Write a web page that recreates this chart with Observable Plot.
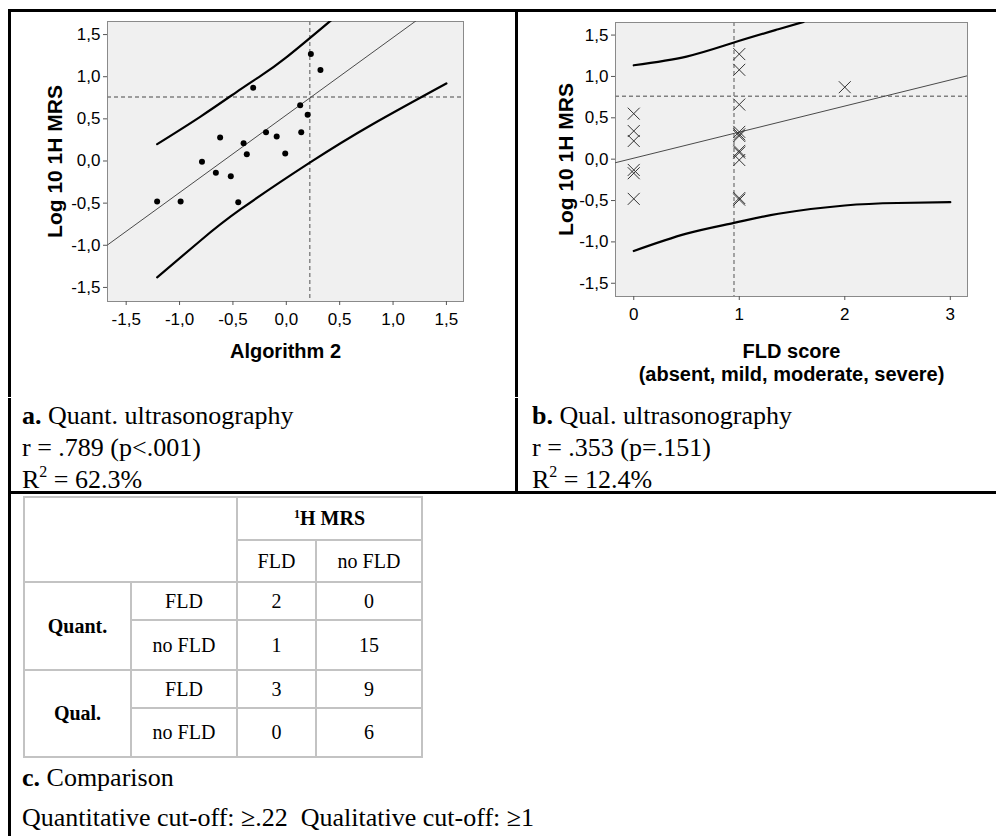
<!DOCTYPE html>
<html><head><meta charset="utf-8">
<script src="https://cdn.jsdelivr.net/npm/d3@7"></script>
<script src="https://cdn.jsdelivr.net/npm/@observablehq/plot@0.6"></script>
<style>
html,body{margin:0;padding:0;background:#fff;}
#fig{position:relative;width:996px;height:836px;overflow:hidden;background:#fff;font-family:"Liberation Serif","Times New Roman",serif;color:#000;}
.rule{position:absolute;background:#000;z-index:5;}
.gap{position:absolute;background:#fff;z-index:6;}
.panel{position:absolute;z-index:1;}
.cap{position:absolute;font-size:26px;line-height:32px;white-space:nowrap;z-index:2;}
.cap sup{font-size:16px;line-height:0;vertical-align:0;position:relative;top:-11px;}
#tbl{position:absolute;left:23px;top:496px;border-collapse:collapse;table-layout:fixed;width:398px;font-size:20px;z-index:2;}
#tbl td{border:2px solid #c3c3c3;text-align:center;vertical-align:middle;padding:0;}
#tbl sup{font-size:12px;line-height:0;position:relative;top:-7px;vertical-align:0;}
</style></head>
<body><div id="fig"></div>
<script>
// ---------- data ----------
const yTicks = [-1.5, -1.0, -0.5, 0.0, 0.5, 1.0, 1.5];
const xTicksA = [-1.5, -1.0, -0.5, 0.0, 0.5, 1.0, 1.5];
const xTicksB = [0, 1, 2, 3];

// Panel a: Algorithm 2 vs Log10 1H MRS
const algorithm2 = [-1.21, -0.99, -0.79, -0.62, -0.66, -0.52, -0.45, -0.40, -0.37, -0.31, -0.19, -0.09, -0.01, 0.14, 0.13, 0.20, 0.23, 0.32];
const logMrsA    = [-0.48, -0.48, -0.01, 0.28, -0.14, -0.18, -0.49, 0.21, 0.08, 0.87, 0.34, 0.29, 0.09, 0.34, 0.66, 0.55, 1.27, 1.08];
const fitA = [0.545, 0.92];              // intercept, slope
const upperA = [[-1.21, 0.20], [-0.80, 0.53], [-0.43, 0.85], [-0.24, 1.01], [0.00, 1.23], [0.42, 1.67]];
const lowerA = [[-1.21, -1.38], [-0.80, -0.94], [-0.43, -0.575], [0.22, -0.02], [0.80, 0.43], [1.50, 0.92]];

// Panel b: FLD score vs Log10 1H MRS
const fldScore = [0, 0, 0, 0, 0, 0, 1, 1, 1, 1, 1, 1, 1, 1, 1, 1, 1, 2];
const logMrsB  = [0.55, 0.34, 0.22, -0.13, -0.17, -0.48, 1.27, 1.08, 0.66, 0.33, 0.30, 0.28, 0.10, 0.08, -0.01, -0.47, -0.49, 0.87];
const fitB = [0.012, 0.315];
const upperB = [[0, 1.135], [0.5, 1.24], [0.95, 1.41], [1.37, 1.57], [1.61, 1.66]];
const lowerB = [[0, -1.11], [0.5, -0.90], [0.95, -0.77], [1.37, -0.66], [2.0, -0.56], [2.5, -0.53], [3.0, -0.52]];

// cut-offs
const cutQuant = 0.22;
const cutQualDrawn = 0.95;
const cutMrs = 0.76;

// Table c
const mrsHeader = "H MRS";
const colLabels = ["FLD", "no FLD"];
const rowGroups = ["Quant.", "Qual."];
const rowLabels = ["FLD", "no FLD"];
const countsQuant = [[2, 0], [1, 15]];
const countsQual  = [[3, 9], [0, 6]];

// ---------- helpers ----------
const fmt = d => d.toFixed(1).replace(".", ",");
const fig = document.getElementById("fig");
const font = "'Liberation Sans', Arial, sans-serif";
const dash = {stroke: "#808080", strokeWidth: 1.4, strokeDasharray: "4,3"};

function scatter(o) {
  const pts = o.xs.map((x, i) => ({x, y: o.ys[i]}));
  const fitPts = o.xDomain.map(x => ({x, y: o.fit[0] + o.fit[1] * x}));
  return Plot.plot({
    width: o.width, height: o.height,
    marginLeft: o.ml, marginRight: o.mr, marginTop: o.mt, marginBottom: o.mb,
    x: {domain: o.xDomain, label: null},
    y: {domain: o.yDomain, label: null},
    style: {fontFamily: font, fontSize: "17px", background: "transparent", color: "#000", overflow: "visible"},
    marks: [
      Plot.frame({fill: "#f0f0f0", stroke: "#8a8a8a"}),
      Plot.ruleX([o.cutX], dash),
      Plot.ruleY([cutMrs], dash),
      Plot.line(fitPts, {x: "x", y: "y", stroke: "#4a4a4a", strokeWidth: 1, clip: true}),
      Plot.line(o.upper, {x: d => d[0], y: d => d[1], stroke: "#000", strokeWidth: 2.2, curve: "natural", clip: true}),
      Plot.line(o.lower, {x: d => d[0], y: d => d[1], stroke: "#000", strokeWidth: 2.2, curve: "natural", clip: true}),
      o.symbol === "times"
        ? Plot.dot(pts, {x: "x", y: "y", symbol: "times", r: 5.5, stroke: "#333", strokeWidth: 1})
        : Plot.dot(pts, {x: "x", y: "y", r: 3, fill: "#000", stroke: null}),
      Plot.axisY(yTicks, {tickSize: 4, tickPadding: 3, tickFormat: fmt, fontSize: 17, stroke: "#555", label: null}),
      Plot.axisX(o.xTicks, {tickSize: 4, tickPadding: 7, tickFormat: o.xFmt, fontSize: 17, stroke: "#555", label: null}),
      Plot.text([o.xLabel], {frameAnchor: "bottom", dy: o.xLabelDy, textAnchor: "middle", lineAnchor: o.xLabelAnchor, lineHeight: 1.15, fontSize: 20, fontWeight: "bold", fill: "#000"}),
      Plot.text(["Log 10 1H MRS"], {frameAnchor: "left", dx: o.yLabelDx, rotate: -90, textAnchor: "middle", lineAnchor: "middle", fontSize: 21, fontWeight: "bold", fill: "#000"})
    ]
  });
}

const plotA = scatter({
  xs: algorithm2, ys: logMrsA, fit: fitA, upper: upperA, lower: lowerA,
  xDomain: [-1.675, 1.66], yDomain: [-1.667, 1.655], xTicks: xTicksA, xFmt: fmt,
  cutX: cutQuant, symbol: "dot",
  width: 516, height: 395, ml: 107, mr: 53, mt: 21, mb: 94,
  xLabel: "Algorithm 2", xLabelDy: 49, xLabelAnchor: "middle", yLabelDx: -52
});
plotA.classList.add("panel");
plotA.style.left = "0px"; plotA.style.top = "0px";
fig.appendChild(plotA);

const plotB = scatter({
  xs: fldScore, ys: logMrsB, fit: fitB, upper: upperB, lower: lowerB,
  xDomain: [-0.173, 3.163], yDomain: [-1.66, 1.652], xTicks: xTicksB, xFmt: d => String(d),
  cutX: cutQualDrawn, symbol: "times",
  width: 478, height: 395, ml: 97, mr: 29, mt: 22, mb: 99,
  xLabel: "FLD score\n(absent, mild, moderate, severe)", xLabelDy: 45, xLabelAnchor: "top", yLabelDx: -49
});
plotB.classList.add("panel");
plotB.style.left = "518px"; plotB.style.top = "0px";
fig.appendChild(plotB);

// ---------- borders ----------
function box(cls, l, t, w, h) {
  const d = document.createElement("div");
  d.className = cls;
  Object.assign(d.style, {left: l + "px", top: t + "px", width: w + "px", height: h + "px"});
  fig.appendChild(d);
}
box("rule", 8, 9, 988, 3);     // top
box("rule", 8, 9, 3, 827);     // left
box("rule", 515, 9, 3, 484);   // middle separator
box("rule", 8, 491, 988, 3);   // below captions
box("gap", 8, 397, 3, 1);      // small cell-boundary breaks
box("gap", 515, 397, 3, 1);

// ---------- captions ----------
function cap(l, t, html) {
  const d = document.createElement("div");
  d.className = "cap";
  d.style.left = l + "px"; d.style.top = t + "px";
  d.innerHTML = html;
  fig.appendChild(d);
}
cap(22, 400, "<b>a.</b> Quant. ultrasonography");
cap(22, 432, "r = .789 (p&lt;.001)");
cap(22, 464, "R<sup>2</sup> = 62.3%");
cap(532, 400, "<b>b.</b> Qual. ultrasonography");
cap(532, 432, "r = .353 (p=.151)");
cap(532, 464, "R<sup>2</sup> = 12.4%");
cap(22, 762, "<b>c.</b> Comparison");
cap(22, 802, "Quantitative cut-off: ≥.22&nbsp; Qualitative cut-off: ≥1");

// ---------- table ----------
const colW = [107, 106, 79, 106];
const rowH = [43, 42, 38, 50, 38, 49];
let h = "<colgroup>" + colW.map(w => `<col style="width:${w}px">`).join("") + "</colgroup>";
h += `<tr style="height:${rowH[0]}px"><td colspan="2" rowspan="2"></td><td colspan="2"><b><sup>1</sup>${mrsHeader}</b></td></tr>`;
h += `<tr style="height:${rowH[1]}px">` + colLabels.map(c => `<td>${c}</td>`).join("") + "</tr>";
[countsQuant, countsQual].forEach((counts, g) => {
  counts.forEach((row, r) => {
    h += `<tr style="height:${rowH[2 + g * 2 + r]}px">`;
    if (r === 0) h += `<td rowspan="2"><b>${rowGroups[g]}</b></td>`;
    h += `<td>${rowLabels[r]}</td>` + row.map(v => `<td>${v}</td>`).join("") + "</tr>";
  });
});
const tbl = document.createElement("table");
tbl.id = "tbl";
tbl.innerHTML = h;
fig.appendChild(tbl);
</script></body></html>
